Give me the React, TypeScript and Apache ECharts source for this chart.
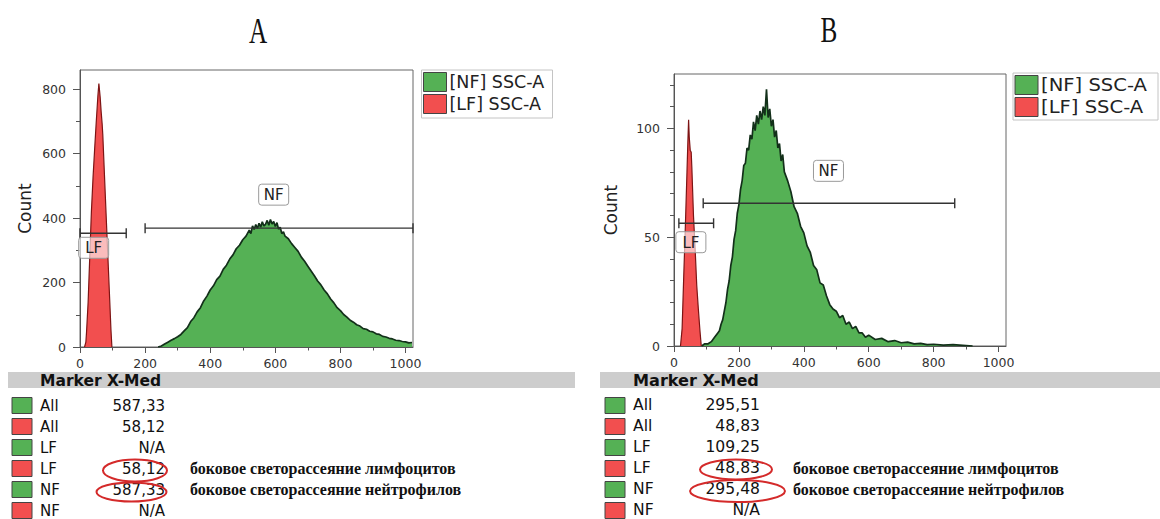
import React, { useEffect, useRef } from 'react';
import * as echarts from 'echarts';

// ---------- data ----------
const panelTitles = ['A', 'B'];
const legendNames = ['[NF] SSC-A', '[LF] SSC-A'];

const xTicks = [0, 200, 400, 600, 800, 1000];
const xMinorTicks = [100, 300, 500, 700, 900];
const yTicksA = [0, 200, 400, 600, 800];
const yMinorTicksA = [100, 300, 500, 700];
const yTicksB = [0, 50, 100];
const yMinorTicksB = [10, 20, 30, 40, 60, 70, 80, 90, 110, 120];
const xMax = 1023;
const yMaxA = 860;
const yMaxB = 125;

// histogram A: neutrophils (NF) and lymphocytes (LF), [SSC-A channel, count]
const nfA: [number, number][] = [
  [240, 0], [250, 3], [260, 9], [270, 15], [280, 21], [290, 26], [300, 32], [310, 39], [320, 50], [330, 60],
  [340, 79], [350, 91], [360, 109], [370, 122], [380, 143], [390, 158], [400, 177], [410, 190], [420, 209],
  [430, 220], [440, 241], [450, 254], [460, 273], [470, 286], [480, 305], [490, 316], [500, 333], [510, 344],
  [520, 363], [525, 352], [530, 376], [535, 365], [540, 380], [545, 368], [550, 384], [555, 372], [560, 389],
  [565, 376], [570, 381], [575, 393], [580, 378], [585, 396], [590, 382], [595, 390], [600, 374], [605, 386],
  [610, 366], [615, 372], [620, 352], [625, 358], [630, 344], [640, 336], [650, 321], [660, 309], [670, 297],
  [680, 279], [690, 266], [700, 251], [710, 236], [720, 221], [730, 205], [740, 193], [750, 177], [760, 165],
  [770, 149], [780, 137], [790, 122], [800, 113], [810, 101], [820, 93], [830, 83], [840, 77], [850, 69],
  [860, 65], [870, 57], [880, 55], [890, 49], [900, 47], [910, 41], [920, 39], [930, 33], [940, 31], [950, 27],
  [960, 25], [970, 21], [980, 20], [990, 17], [1000, 16], [1010, 13], [1020, 14],
];
const lfA: [number, number][] = [
  [14, 0], [18, 15], [20, 45], [25, 140], [30, 280], [35, 420], [40, 525], [45, 615], [50, 700], [55, 780],
  [58, 818], [62, 775], [65, 730], [68, 693], [70, 660], [75, 537], [80, 416], [85, 296], [90, 176], [95, 55], [98, 0],
];

// histogram B
const nfB: [number, number][] = [
  [85, 0], [95, 1], [105, 1], [115, 2], [125, 4], [135, 6], [140, 7], [145, 10], [150, 12], [155, 16], [160, 20],
  [165, 26], [170, 30], [175, 37], [180, 41], [185, 49], [190, 53], [195, 61], [200, 65], [205, 72], [210, 76],
  [215, 83], [220, 84], [225, 91], [230, 90], [235, 97], [240, 95], [245, 103], [250, 99], [255, 106], [260, 102],
  [265, 108], [270, 104], [275, 110], [280, 106], [285, 118], [290, 105], [295, 109], [300, 101], [305, 104],
  [310, 96], [315, 99], [320, 91], [325, 93], [330, 85], [335, 88], [340, 80], [350, 76], [360, 71], [370, 64],
  [380, 61], [390, 55], [400, 52], [410, 46], [420, 43], [430, 37], [440, 35], [450, 29], [460, 28], [470, 23],
  [480, 19], [490, 17], [500, 16], [510, 13], [520, 14], [530, 10], [540, 11], [550, 8], [560, 9], [570, 6],
  [580, 6], [590, 4], [600, 5], [620, 3], [640, 3.5], [660, 2], [680, 2.5], [700, 1.5], [720, 1.8], [740, 1],
  [760, 1.2], [780, 0.6], [800, 0.8], [830, 0.4], [860, 0.6], [890, 0.3], [920, 0],
];
const lfB: [number, number][] = [
  [20, 0], [25, 8], [30, 32], [35, 55], [40, 80], [43, 95], [45, 104], [47, 96], [50, 90], [53, 89], [55, 82],
  [60, 60], [65, 45], [70, 28], [75, 17], [80, 7], [84, 0],
];

// gates: [name, from, to, count level, label x, label count]
const gatesA: [string, number, number, number, number, number][] = [
  ['LF', 0, 142, 353, 42, 308],
  ['NF', 200, 1023, 369, 595, 473],
];
const gatesB: [string, number, number, number, number, number][] = [
  ['LF', 15, 122, 56.4, 52, 47.7],
  ['NF', 90, 865, 65.6, 476, 80.5],
];

// statistics table
const rowMarkers = ['All', 'All', 'LF', 'LF', 'NF', 'NF'];
const rowIsNF = [true, false, true, false, true, false];
const xMedA = ['587,33', '58,12', 'N/A', '58,12', '587,33', 'N/A'];
const xMedB = ['295,51', '48,83', '109,25', '48,83', '295,48', 'N/A'];
const notes = ['', '', '', 'боковое светорассеяние лимфоцитов', 'боковое светорассеяние нейтрофилов', ''];
const tableHeader = 'Marker X-Med';

// ---------- styles ----------
const GREEN = '#55b155';
const RED = '#f24f4f';
const GREEN_LINE = '#13301a';
const RED_LINE = '#7d1414';
const AXIS = '#555';
const SANS = '"DejaVu Sans", Verdana, sans-serif';
const SERIF = '"Liberation Serif", "Times New Roman", serif';

const numFmt = (v: number) => String(v);

function mainX(grid: number) {
  return {
    type: 'value', gridIndex: grid, min: 0, max: xMax, position: 'bottom',
    axisLine: { show: true, onZero: false, lineStyle: { color: AXIS } },
    axisTick: { show: true, length: 6, customValues: xTicks, lineStyle: { color: AXIS } },
    axisLabel: { customValues: xTicks, color: '#333', fontSize: 12.5, fontFamily: SANS, margin: 10, formatter: numFmt },
    splitLine: { show: false },
  };
}
function minorX(grid: number) {
  return {
    type: 'value', gridIndex: grid, min: 0, max: xMax, position: 'bottom',
    axisLine: { show: false, onZero: false },
    axisTick: { show: true, length: 3.5, customValues: xMinorTicks, lineStyle: { color: AXIS } },
    axisLabel: { show: false },
    splitLine: { show: false },
  };
}
function mainY(grid: number, max: number, ticks: number[], gap: number) {
  return {
    type: 'value', gridIndex: grid, min: 0, max, position: 'left',
    name: 'Count', nameLocation: 'middle', nameGap: gap,
    nameTextStyle: { fontSize: 17, color: '#222', fontFamily: SANS },
    axisLine: { show: true, onZero: false, lineStyle: { color: AXIS } },
    axisTick: { show: true, length: 7, customValues: ticks, lineStyle: { color: AXIS } },
    axisLabel: { customValues: ticks, color: '#333', fontSize: 12.5, fontFamily: SANS, margin: 14, formatter: numFmt },
    splitLine: { show: false },
  };
}
function minorY(grid: number, max: number, ticks: number[]) {
  return {
    type: 'value', gridIndex: grid, min: 0, max, position: 'left',
    axisLine: { show: false, onZero: false },
    axisTick: { show: true, length: 4, customValues: ticks, lineStyle: { color: AXIS } },
    axisLabel: { show: false },
    splitLine: { show: false },
  };
}

function histSeries(name: string, data: [number, number][], axis: number, fill: string, stroke: string, width: number) {
  return {
    type: 'line', name, data, xAxisIndex: axis, yAxisIndex: axis,
    symbol: 'none', smooth: false,
    lineStyle: { color: stroke, width },
    itemStyle: { color: fill },
    areaStyle: { color: fill, opacity: 1 },
    z: 2,
  };
}

function gateSeries(gates: [string, number, number, number, number, number][], axis: number) {
  return {
    type: 'custom', xAxisIndex: axis, yAxisIndex: axis, z: 6, clip: false,
    encode: { x: [0, 1, 3], y: [2, 4] },
    data: gates.map((g) => [g[1], g[2], g[3], g[4], g[5]]),
    renderItem: (params: any, api: any) => {
      const name = gates[params.dataIndex][0];
      const p1 = api.coord([api.value(0), api.value(2)]);
      const p2 = api.coord([api.value(1), api.value(2)]);
      const lp = api.coord([api.value(3), api.value(4)]);
      const ls = { stroke: '#333', lineWidth: 1.4 };
      const w = 30;
      const h = 21;
      return {
        type: 'group',
        children: [
          { type: 'line', shape: { x1: p1[0], y1: p1[1], x2: p2[0], y2: p2[1] }, style: ls },
          { type: 'line', shape: { x1: p1[0], y1: p1[1] - 5, x2: p1[0], y2: p1[1] + 5 }, style: ls },
          { type: 'line', shape: { x1: p2[0], y1: p2[1] - 5, x2: p2[0], y2: p2[1] + 5 }, style: ls },
          {
            type: 'rect', shape: { x: lp[0] - w / 2, y: lp[1] - h / 2, width: w, height: h, r: 3 },
            style: { fill: 'rgba(255,255,255,0.62)', stroke: '#9a9a9a', lineWidth: 1 },
          },
          {
            type: 'text', x: lp[0], y: lp[1] + 0.5,
            style: { text: name, fill: '#222', fontSize: 15, fontFamily: SANS, align: 'center', verticalAlign: 'middle' },
          },
        ],
      };
    },
  };
}

function legendBox(x: number, y: number, w: number, h: number, fontSize: number, scaleX: number) {
  const els: any[] = [
    { type: 'rect', shape: { x, y, width: w, height: h }, style: { fill: '#fff', stroke: '#c4c4c4', lineWidth: 1 } },
  ];
  const colors = [GREEN, RED];
  legendNames.forEach((name, i) => {
    const sy = y + 2.5 + i * 22;
    els.push({
      type: 'rect', shape: { x: x + 2, y: sy, width: 23, height: 19 },
      style: { fill: colors[i], stroke: '#444', lineWidth: 1 },
    });
    els.push({
      type: 'text', x: x + 28, y: sy + 9.5, scaleX,
      style: { text: name, fill: '#222', fontSize, fontFamily: SANS, align: 'left', verticalAlign: 'middle' },
    });
  });
  return els;
}

function table(
  barX: number, barW: number, sqX: number, labelX: number, valueRight: number, noteX: number,
  values: string[], ellipses: [number, number, number, number][], scaleX: number,
) {
  const els: any[] = [];
  const rowY0 = 405.5;
  const rowStep = 21;
  els.push({ type: 'rect', shape: { x: barX, y: 372, width: barW, height: 16 }, style: { fill: '#cdcdcd' } });
  els.push({
    type: 'text', x: labelX, y: 380.5, scaleX,
    style: { text: tableHeader, fill: '#111', fontSize: 15.5, fontWeight: 'bold', fontFamily: SANS, align: 'left', verticalAlign: 'middle' },
  });
  rowMarkers.forEach((m, i) => {
    const cy = rowY0 + i * rowStep;
    els.push({
      type: 'rect', shape: { x: sqX, y: cy - 8, width: 20, height: 16 },
      style: { fill: rowIsNF[i] ? GREEN : RED, stroke: '#444', lineWidth: 1 },
    });
    els.push({
      type: 'text', x: labelX, y: cy, scaleX,
      style: { text: m, fill: '#111', fontSize: 15, fontFamily: SANS, align: 'left', verticalAlign: 'middle', lineHeight: 15 },
    });
    els.push({
      type: 'text', x: valueRight, y: cy, scaleX,
      style: { text: values[i], fill: '#111', fontSize: 15, fontFamily: SANS, align: 'right', verticalAlign: 'middle', lineHeight: 15 },
    });
    if (notes[i]) {
      els.push({
        type: 'text', x: noteX, y: cy,
        style: { text: notes[i], fill: '#111', fontSize: 16, fontWeight: 'bold', fontFamily: SERIF, align: 'left', verticalAlign: 'middle' },
      });
    }
  });
  ellipses.forEach((e) => {
    els.push({
      type: 'ellipse', shape: { cx: e[0], cy: e[1], rx: e[2], ry: e[3] },
      style: { fill: 'none', stroke: '#d42a2a', lineWidth: 2 },
      z: 10,
    });
  });
  return els;
}

const graphicEls: any[] = [
  {
    type: 'text', x: 258, y: 32, scaleX: 0.72,
    style: { text: panelTitles[0], fill: '#111', fontSize: 35, fontFamily: SERIF, align: 'center', verticalAlign: 'middle' },
  },
  {
    type: 'text', x: 829, y: 31, scaleX: 0.72,
    style: { text: panelTitles[1], fill: '#111', fontSize: 35, fontFamily: SERIF, align: 'center', verticalAlign: 'middle' },
  },
  ...legendBox(421.5, 70, 131, 48, 17.5, 1),
  ...legendBox(1013, 73, 145, 47, 17.5, 1.12),
  ...table(8, 567, 12, 40, 165, 190, xMedA, [[135, 470.5, 32, 11], [131.5, 492, 35, 9.5]], 1),
  ...table(600, 560, 605, 633, 760, 793, xMedB, [[736, 469.5, 36, 10], [737.5, 491, 47.5, 11]], 1.04),
];

const option: any = {
  animation: false,
  backgroundColor: '#ffffff',
  grid: [
    { left: 80, top: 70, width: 333, height: 277, show: true, borderColor: '#666', borderWidth: 1, backgroundColor: 'transparent', outerBoundsMode: 'none' },
    { left: 674, top: 74, width: 332, height: 272, show: true, borderColor: '#666', borderWidth: 1, backgroundColor: 'transparent', outerBoundsMode: 'none' },
  ],
  xAxis: [mainX(0), mainX(1), minorX(0), minorX(1)],
  yAxis: [mainY(0, yMaxA, yTicksA, 47), mainY(1, yMaxB, yTicksB, 55), minorY(0, yMaxA, yMinorTicksA), minorY(1, yMaxB, yMinorTicksB)],
  series: [
    histSeries(legendNames[0], nfA, 0, GREEN, GREEN_LINE, 1.7),
    histSeries(legendNames[1], lfA, 0, RED, RED_LINE, 1.2),
    histSeries(legendNames[0], nfB, 1, GREEN, GREEN_LINE, 1.7),
    histSeries(legendNames[1], lfB, 1, RED, RED_LINE, 1.2),
    gateSeries(gatesA, 0),
    gateSeries(gatesB, 1),
  ],
  graphic: graphicEls,
};

export default function App() {
  const ref = useRef<HTMLDivElement>(null);
  useEffect(() => {
    const chart = echarts.init(ref.current as HTMLDivElement, null, { renderer: 'svg' });
    chart.setOption(option);
    return () => chart.dispose();
  }, []);
  return (
    <div
      ref={ref}
      style={{ position: 'absolute', left: 0, top: 0, width: 1160, height: 519, background: '#fff' }}
    />
  );
}
